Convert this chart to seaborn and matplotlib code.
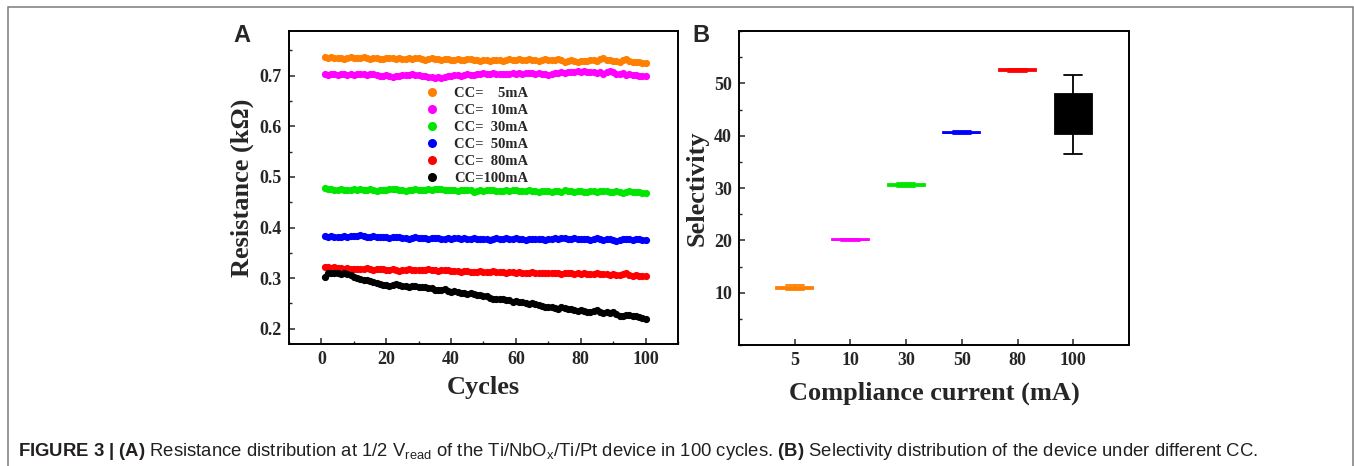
import numpy as np
import pandas as pd
import seaborn as sns
import matplotlib.pyplot as plt
from matplotlib.lines import Line2D
from matplotlib.patches import Rectangle
from matplotlib.ticker import MultipleLocator

# ---- panel A data: resistance (kOhm) over 100 cycles ----
cycles = list(range(1, 101))

res_5 = [0.736,0.735,0.737,0.735,0.734,0.735,0.733,0.734,0.736,0.735,
         0.734,0.735,0.736,0.734,0.733,0.735,0.734,0.732,0.733,0.734,
         0.735,0.734,0.733,0.734,0.732,0.733,0.734,0.733,0.735,0.734,
         0.732,0.731,0.733,0.734,0.732,0.733,0.731,0.732,0.733,0.731,
         0.730,0.732,0.731,0.730,0.732,0.733,0.731,0.730,0.729,0.731,
         0.730,0.729,0.730,0.731,0.730,0.729,0.731,0.732,0.730,0.731,
         0.732,0.731,0.730,0.732,0.731,0.730,0.729,0.731,0.732,0.731,
         0.730,0.731,0.732,0.730,0.727,0.728,0.730,0.729,0.727,0.728,
         0.729,0.728,0.730,0.731,0.729,0.732,0.734,0.731,0.730,0.729,
         0.728,0.727,0.731,0.732,0.729,0.727,0.726,0.727,0.725,0.725]

res_10 = [0.703,0.702,0.703,0.704,0.702,0.703,0.704,0.702,0.703,0.702,
          0.703,0.704,0.703,0.702,0.703,0.704,0.701,0.699,0.700,0.702,
          0.700,0.698,0.699,0.700,0.701,0.702,0.701,0.703,0.702,0.701,
          0.700,0.699,0.698,0.697,0.696,0.697,0.695,0.697,0.699,0.700,
          0.701,0.702,0.700,0.701,0.703,0.702,0.701,0.704,0.703,0.705,
          0.704,0.703,0.705,0.704,0.703,0.704,0.703,0.704,0.705,0.704,
          0.705,0.704,0.705,0.706,0.705,0.704,0.705,0.703,0.704,0.702,
          0.704,0.705,0.706,0.707,0.706,0.708,0.707,0.708,0.709,0.708,
          0.709,0.708,0.707,0.708,0.706,0.707,0.704,0.708,0.709,0.707,
          0.704,0.703,0.706,0.702,0.703,0.701,0.702,0.700,0.700,0.699]

res_30 = [0.478,0.476,0.477,0.475,0.474,0.476,0.475,0.474,0.475,0.476,
          0.475,0.476,0.474,0.475,0.476,0.474,0.473,0.474,0.475,0.474,
          0.476,0.477,0.476,0.475,0.474,0.473,0.474,0.475,0.476,0.475,
          0.474,0.475,0.476,0.475,0.477,0.476,0.477,0.475,0.474,0.475,
          0.474,0.473,0.474,0.475,0.474,0.475,0.471,0.473,0.474,0.473,
          0.474,0.475,0.474,0.473,0.472,0.473,0.474,0.473,0.475,0.474,
          0.473,0.472,0.473,0.474,0.473,0.472,0.471,0.472,0.473,0.472,
          0.471,0.473,0.472,0.471,0.474,0.473,0.472,0.471,0.473,0.472,
          0.471,0.470,0.472,0.473,0.471,0.472,0.473,0.472,0.471,0.470,
          0.472,0.471,0.469,0.471,0.472,0.471,0.470,0.470,0.469,0.469]

res_50 = [0.383,0.382,0.383,0.382,0.381,0.382,0.383,0.382,0.383,0.384,
          0.383,0.385,0.383,0.381,0.382,0.383,0.382,0.381,0.382,0.381,
          0.380,0.381,0.382,0.381,0.380,0.379,0.378,0.380,0.381,0.380,
          0.379,0.380,0.378,0.379,0.380,0.379,0.377,0.378,0.379,0.378,
          0.379,0.380,0.378,0.379,0.377,0.378,0.379,0.378,0.377,0.378,
          0.377,0.376,0.378,0.379,0.377,0.378,0.379,0.377,0.378,0.379,
          0.378,0.377,0.376,0.377,0.378,0.377,0.378,0.377,0.376,0.377,
          0.378,0.379,0.378,0.380,0.379,0.378,0.377,0.379,0.378,0.377,
          0.378,0.377,0.376,0.378,0.379,0.377,0.376,0.378,0.377,0.376,
          0.374,0.375,0.377,0.378,0.377,0.376,0.377,0.378,0.376,0.375]

res_80 = [0.322,0.323,0.321,0.322,0.321,0.320,0.319,0.320,0.319,0.318,
          0.319,0.318,0.319,0.320,0.318,0.317,0.318,0.319,0.318,0.316,
          0.317,0.318,0.317,0.315,0.316,0.317,0.318,0.317,0.316,0.317,
          0.316,0.317,0.318,0.317,0.316,0.315,0.316,0.317,0.316,0.315,
          0.314,0.315,0.313,0.314,0.315,0.313,0.312,0.313,0.314,0.313,
          0.312,0.313,0.314,0.312,0.313,0.312,0.311,0.312,0.313,0.311,
          0.312,0.311,0.310,0.311,0.312,0.311,0.310,0.311,0.310,0.311,
          0.310,0.311,0.310,0.309,0.310,0.311,0.310,0.309,0.310,0.309,
          0.310,0.309,0.308,0.309,0.310,0.308,0.309,0.308,0.307,0.308,
          0.307,0.306,0.309,0.310,0.307,0.305,0.306,0.305,0.304,0.304]

res_100 = [0.303,0.310,0.311,0.311,0.310,0.309,0.310,0.308,0.306,0.302,
           0.301,0.298,0.297,0.296,0.295,0.293,0.290,0.288,0.286,0.287,
           0.284,0.286,0.288,0.286,0.285,0.284,0.283,0.285,0.284,0.282,
           0.283,0.282,0.281,0.280,0.276,0.277,0.276,0.278,0.274,0.273,
           0.274,0.272,0.271,0.270,0.269,0.270,0.268,0.266,0.267,0.265,
           0.264,0.260,0.258,0.259,0.258,0.259,0.257,0.256,0.252,0.254,
           0.253,0.252,0.250,0.249,0.250,0.248,0.247,0.245,0.244,0.243,
           0.244,0.242,0.239,0.243,0.241,0.240,0.239,0.238,0.236,0.237,
           0.235,0.234,0.234,0.235,0.237,0.233,0.232,0.233,0.231,0.233,
           0.229,0.226,0.225,0.228,0.227,0.226,0.225,0.223,0.222,0.220]

series_labels = ['CC=    5mA', 'CC=  10mA', 'CC=  30mA', 'CC=  50mA', 'CC=  80mA', 'CC=100mA']
series_colors = ['#ff8000', '#ff00ff', '#00e600', '#0000ff', '#ff0000', '#000000']

# ---- panel B data: selectivity box summary (whisker low, q1, median, q3, whisker high) ----
cc_labels = ['5', '10', '30', '50', '80', '100']
sel_low = [10.5, 19.95, 30.1, 40.4, 52.2, 36.55]
sel_q1 = [10.7, 20.0, 30.3, 40.5, 52.35, 40.3]
sel_med = [10.9, 20.1, 30.5, 40.6, 52.5, 44.0]
sel_q3 = [11.1, 20.2, 30.7, 40.75, 52.65, 47.9]
sel_high = [11.4, 20.25, 30.9, 40.85, 52.8, 51.65]

all_res = [res_5, res_10, res_30, res_50, res_80, res_100]
dfa = pd.concat([pd.DataFrame({'cycle': cycles, 'res': r, 'cc': lab})
                 for r, lab in zip(all_res, series_labels)], ignore_index=True)

rows = []
for i, lab in enumerate(cc_labels):
    for v in [sel_low[i], sel_q1[i], sel_med[i], sel_q3[i], sel_high[i]]:
        rows.append({'cc': lab, 'sel': v})
dfb = pd.DataFrame(rows)

sns.set_style('white')
plt.rcParams['font.family'] = ['Liberation Serif', 'DejaVu Serif']
plt.rcParams['axes.labelweight'] = 'bold'
plt.rcParams['mathtext.fontset'] = 'custom'
plt.rcParams['mathtext.rm'] = 'Liberation Sans'
plt.rcParams['mathtext.bf'] = 'Liberation Sans:bold'
plt.rcParams['mathtext.it'] = 'Liberation Sans:italic'

fig = plt.figure(figsize=(13.54, 4.66), dpi=100)
ax1 = fig.add_axes([289/1354, 122/466, 389/1354, 313/466])
ax2 = fig.add_axes([739/1354, 121/466, 390/1354, 314/466])

# panel A
pal = dict(zip(series_labels, series_colors))
sns.lineplot(data=dfa, x='cycle', y='res', hue='cc', palette=pal, marker='o',
             markersize=5.2, markeredgewidth=0, linewidth=0.8, legend=False, ax=ax1)
sns.scatterplot(data=dfa, x='cycle', y='res', color='white', s=2.5,
                linewidth=0, alpha=0.9, legend=False, ax=ax1)
ax1.set_xlim(-10, 110)
ax1.set_ylim(0.17, 0.788)
ax1.xaxis.set_major_locator(MultipleLocator(20))
ax1.xaxis.set_minor_locator(MultipleLocator(10))
ax1.yaxis.set_major_locator(MultipleLocator(0.1))
ax1.yaxis.set_minor_locator(MultipleLocator(0.05))
ax1.set_xlabel('Cycles', fontsize=19, labelpad=6)
ax1.set_ylabel('Resistance (kΩ)', fontsize=19, labelpad=4)

handles = [Line2D([], [], linestyle='none', marker='o', markersize=6.5,
                  markerfacecolor=c, markeredgewidth=0) for c in series_colors]
ax1.legend(handles, series_labels, loc='upper left', bbox_to_anchor=(0.33, 0.845),
           frameon=False, prop={'family': 'Liberation Serif', 'weight': 'bold', 'size': 10.5},
           handlelength=1.0, handletextpad=1.0, labelspacing=0.26, borderpad=0)

# panel B
for lab, c in zip(cc_labels, series_colors):
    sns.boxplot(data=dfb[dfb['cc'] == lab], x='cc', y='sel', order=cc_labels,
                color=c, linecolor=c, saturation=1, width=0.66, linewidth=1.3,
                showfliers=False, ax=ax2)
ax2.set_xlim(-1, 6)
ax2.set_ylim(0, 60)
ax2.yaxis.set_major_locator(MultipleLocator(10))
ax2.yaxis.set_minor_locator(MultipleLocator(5))
ax2.set_yticks([10, 20, 30, 40, 50])
ax2.set_xlabel('Compliance current (mA)', fontsize=19, labelpad=9)
ax2.set_ylabel('Selectivity', fontsize=19, labelpad=4)

for ax in (ax1, ax2):
    for s in ax.spines.values():
        s.set_visible(True)
        s.set_color('black')
        s.set_linewidth(1.4)
    ax.tick_params(which='major', direction='in', length=4.5, width=1.1,
                   labelsize=13, top=False, right=False, bottom=True, left=True, pad=5)
    ax.tick_params(which='minor', direction='in', length=2.5, width=1.0,
                   top=False, right=False, bottom=True, left=True)
    for t in ax.get_xticklabels() + ax.get_yticklabels():
        t.set_fontweight('bold')
ax2.tick_params(axis='x', which='minor', bottom=False)

fig.text(242/1354, 1 - 35/466, 'A', family='Liberation Sans', weight='bold',
         fontsize=17, ha='center', va='center')
fig.text(701/1354, 1 - 35/466, 'B', family='Liberation Sans', weight='bold',
         fontsize=17, ha='center', va='center')

caption = (r'$\mathbf{FIGURE\ 3\ |\ (A)}$ Resistance distribution at 1/2 V$_{\mathrm{read}}$ of the '
           r'Ti/NbO$_{\mathrm{x}}$/Ti/Pt device in 100 cycles. $\mathbf{(B)}$ Selectivity '
           r'distribution of the device under different CC.')
fig.text(18/1354, 1 - 451/466, caption, family='Liberation Sans', weight='normal',
         fontsize=13.3, color='#231f20', ha='left', va='center')

fig.patches.append(Rectangle((8/1354, -0.05), 1345/1354, 1.05 - 7/466, fill=False,
                             edgecolor='#7a7a7a', linewidth=1.1, transform=fig.transFigure))

fig.savefig('out.png', dpi=100)
